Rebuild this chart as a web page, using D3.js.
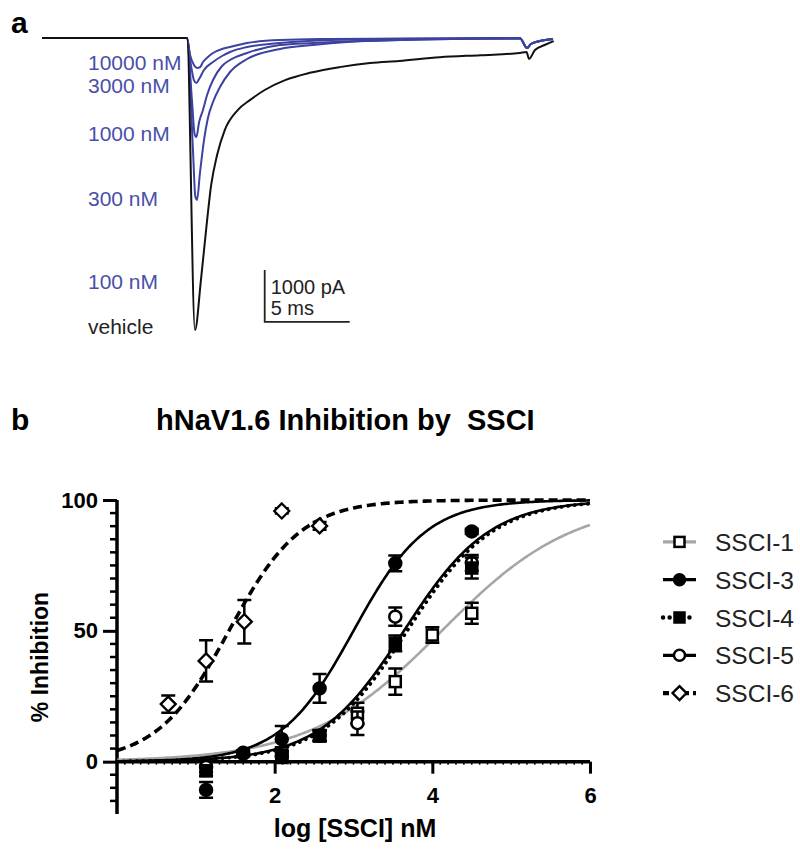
<!DOCTYPE html>
<html><head><meta charset="utf-8">
<script src="https://cdn.jsdelivr.net/npm/d3@7"></script>
<style>body{margin:0;background:#fff}svg{display:block}text{font-family:Arial,"Liberation Sans",Helvetica,sans-serif}</style>
</head><body><svg id="c" width="800" height="852"></svg>
<script>
// ---------- Panel a : current traces (time in ms, current in pA) ----------
const traceLabels = ["10000 nM","3000 nM","1000 nM","300 nM","100 nM","vehicle"];
const t10000 = [0, 8.53, 8.71, 8.94, 9.12, 9.3, 9.47, 9.76, 10.06, 10.59, 11.06, 12.06, 14.0, 16.94, 21.06, 28.12, 28.53, 28.76, 29.29, 30.06];
const i10000 = [0, 0, -327, -520, -577, -560, -462, -365, -288, -212, -173, -96, -38, -19, -10, 0, -192, -115, -58, -19];
const t3000 = [0, 8.53, 8.76, 8.95, 9.08, 9.24, 9.53, 10.06, 10.59, 11.06, 12.06, 14.0, 16.94, 21.06, 28.12, 28.53, 28.76, 29.29, 30.06];
const i3000 = [0, 0, -519, -820, -865, -790, -615, -462, -346, -269, -173, -96, -38, -19, -10, -192, -115, -58, -19];
const t1000 = [0, 8.53, 8.82, 8.98, 9.08, 9.24, 9.47, 9.71, 10.06, 10.59, 11.06, 12.06, 14.0, 15.94, 18.71, 22.24, 28.12, 28.53, 28.76, 29.29, 30.06];
const i1000 = [0, 0, -1192, -1850, -1904, -1620, -1385, -1096, -808, -538, -423, -288, -135, -96, -58, -29, -10, -192, -115, -58, -19];
const t300 = [0, 8.53, 8.88, 9.02, 9.12, 9.29, 9.53, 9.76, 10.06, 10.47, 11.06, 12.06, 14.0, 15.94, 17.94, 21.06, 24.59, 28.12, 28.53, 28.76, 29.29, 30.06];
const i300 = [0, 0, -2154, -3050, -3115, -2600, -1962, -1538, -1231, -942, -654, -404, -212, -135, -77, -38, -19, -10, -192, -115, -58, -19];
const tVehicle = [0, 8.53, 9.0, 9.35, 9.65, 9.95, 10.3, 10.75, 11.5, 12.25, 13.1, 14.3, 15.75, 17.5, 19.3, 21.0, 23.4, 25.8, 28.1, 28.5, 28.65, 29.0, 29.6, 30.1];
const iVehicle = [0, 0, -5615, -4650, -3700, -2830, -2250, -1770, -1390, -1190, -1000, -810, -670, -560, -480, -440, -370, -330, -290, -270, -400, -230, -130, -60];
const labelCurrent = [-480, -920, -1850, -3100, -4700, -5550]; // current level where each label sits

// ---------- Panel b : concentration-response ----------
const compounds = ["SSCI-1","SSCI-3","SSCI-4","SSCI-5","SSCI-6"];
const logIC50 = [4.12, 3.0, 3.68, 3.64, 1.42];
const hillSlope = [0.52, 0.94, 0.8, 0.8, 0.95];
const x1 = [2.09, 2.57, 3.05, 3.53, 4.0, 4.5];
const y1 = [2, 10, 18.5, 30.6, 48.4, 56.7];
const e1 = [2, 2, 4, 5, 3, 4];
const x3 = [1.13, 1.6, 2.09, 2.57, 3.53, 4.5];
const y3 = [-10.8, 3.4, 8.6, 28, 75.8, 88];
const e3 = [3, 1, 5, 5.5, 3, 1];
const x4 = [1.13, 2.09, 2.57, 3.53, 4.5];
const y4 = [-3.5, 2.5, 9.8, 45.2, 74];
const e4 = [2, 3, 2, 3, 4];
const x5 = [1.13, 1.6, 2.09, 2.57, 3.05, 3.53, 4.5];
const y5 = [-2, 3, 2, 10, 14.7, 55.4, 76];
const e5 = [2, 1, 2, 2, 4.5, 3.5, 3];
const x6 = [0.65, 1.13, 1.615, 2.09, 2.57];
const y6 = [22, 38.5, 53.5, 95.8, 90.1];
const e6 = [3.3, 7.9, 8.3, 1, 1.5];
const xTicks = [2, 4, 6];
const yTicks = [0, 50, 100];

const svg = d3.select("#c");
const blue = "#3d42a0";

// ===== Panel a =====
const tx = d3.scaleLinear().domain([0, 30]).range([42, 552]);
const iy = d3.scaleLinear().domain([0, -1000]).range([38, 90]);
const lineA = d3.line().x(d => tx(d[0])).y(d => iy(d[1])).curve(d3.curveMonotoneX);
const traces = [
  {t: t300, i: i300, c: blue},
  {t: t1000, i: i1000, c: blue},
  {t: t3000, i: i3000, c: blue},
  {t: t10000, i: i10000, c: blue},
  {t: tVehicle, i: iVehicle, c: "#111"}
];
traces.forEach(tr => {
  svg.append("path").datum(d3.zip(tr.t, tr.i)).attr("d", lineA)
    .attr("fill", "none").attr("stroke", tr.c).attr("stroke-width", 2).attr("stroke-linejoin", "round");
});
svg.append("text").attr("x", 11).attr("y", 33).attr("font-size", 30).attr("font-weight", "bold").text("a");
traceLabels.forEach((l, k) => {
  svg.append("text").attr("x", 88).attr("y", iy(labelCurrent[k]) + 7).attr("font-size", 21)
    .attr("fill", l === "vehicle" ? "#222" : "#4a4fa8").text(l);
});
// scale bar: 1000 pA, 5 ms
const sbT = 13.1, sbI = -4460;
svg.append("path").attr("d", `M${tx(sbT)},${iy(sbI)}V${iy(sbI - 1000)}H${tx(sbT + 5)}`)
  .attr("fill", "none").attr("stroke", "#222").attr("stroke-width", 1.8);
svg.append("text").attr("x", tx(sbT) + 6).attr("y", iy(sbI) + 24).attr("font-size", 20).attr("fill", "#222").text("1000 pA");
svg.append("text").attr("x", tx(sbT) + 6).attr("y", iy(sbI) + 45).attr("font-size", 20).attr("fill", "#222").text("5 ms");

// ===== Panel b =====
const x = d3.scaleLinear().domain([0, 6]).range([117, 590]);
const y = d3.scaleLinear().domain([-20, 100]).range([814, 500]);

svg.append("text").attr("x", 11).attr("y", 430).attr("font-size", 30).attr("font-weight", "bold").text("b");
svg.append("text").attr("x", 156).attr("y", 430).attr("font-size", 29).attr("font-weight", "bold")
  .style("white-space", "pre").text("hNaV1.6 Inhibition by  SSCI");

// axes
const yAxis = d3.axisLeft(y).tickValues(yTicks).tickSize(14).tickPadding(5).tickFormat(d3.format("d"));
const gy = svg.append("g").attr("transform", `translate(${x(0)},0)`).call(yAxis);
gy.append("g").selectAll("line").data(d3.range(-15, 100, 5).filter(v => v % 50 !== 0)).join("line")
  .attr("x1", -7).attr("x2", 0).attr("y1", d => y(d)).attr("y2", d => y(d)).attr("stroke", "#000").attr("stroke-width", 2.5);
const xAxis = d3.axisBottom(x).tickValues(xTicks).tickSize(12).tickPadding(14).tickFormat(d3.format("d"));
const gx = svg.append("g").attr("transform", `translate(0,${y(0)})`).call(xAxis);
gx.append("g").selectAll("line").data(d3.range(1, 60).map(v => v / 10)).join("line")
  .attr("x1", d => x(d)).attr("x2", d => x(d)).attr("y1", 0).attr("y2", 3).attr("stroke", "#000").attr("stroke-width", 1.5);
[gx, gy].forEach(g => {
  g.select(".domain").attr("stroke", "#000").attr("stroke-width", 3.5);
  g.selectAll(".tick line").attr("stroke", "#000").attr("stroke-width", 3);
  g.selectAll(".tick text").attr("font-size", 22).attr("font-weight", "bold").attr("fill", "#000")
    .attr("font-family", "Arial, 'Liberation Sans', sans-serif");
});
gy.select(".domain").attr("d", `M0,${y(-20)}V${y(100)}`);
gx.select(".domain").attr("d", `M${x(0)},0H${x(6)}`);

svg.append("text").attr("transform", `translate(48,657) rotate(-90)`).attr("text-anchor", "middle")
  .attr("font-size", 23).attr("font-weight", "bold").text("% Inhibition");
svg.append("text").attr("x", 355).attr("y", 837).attr("text-anchor", "middle")
  .attr("font-size", 25).attr("font-weight", "bold").text("log [SSCI] nM");

// fitted curves
const styles = [
  {stroke: "#a6a6a6", dash: null, w: 2.6, cap: "butt", marker: "square", fill: "#fff"},
  {stroke: "#000", dash: null, w: 2.6, cap: "butt", marker: "circle", fill: "#000"},
  {stroke: "#000", dash: "0.1 6.5", w: 3.8, cap: "round", marker: "square", fill: "#000"},
  {stroke: "#000", dash: null, w: 2.6, cap: "butt", marker: "circle", fill: "#fff"},
  {stroke: "#000", dash: "9 5", w: 3.6, cap: "butt", marker: "diamond", fill: "#fff"}
];
const xs = d3.range(0, 6.0001, 0.02);
const lineB = d3.line().x(d => x(d[0])).y(d => y(d[1]));
const curveOrder = [0, 3, 2, 1, 4];
curveOrder.forEach(k => {
  const pts = xs.map(v => [v, 100 / (1 + Math.pow(10, (logIC50[k] - v) * hillSlope[k]))]);
  svg.append("path").datum(pts).attr("d", lineB).attr("fill", "none")
    .attr("stroke", styles[k].stroke).attr("stroke-width", styles[k].w)
    .attr("stroke-dasharray", styles[k].dash).attr("stroke-linecap", styles[k].cap);
});

function drawMarker(g, type, cx, cy, fill, s) {
  if (type === "circle") {
    g.append("circle").attr("cx", cx).attr("cy", cy).attr("r", s / 2 - 0.5).attr("fill", fill)
      .attr("stroke", "#000").attr("stroke-width", 2.5);
  } else if (type === "square") {
    g.append("rect").attr("x", cx - s / 2 + 1).attr("y", cy - s / 2 + 1).attr("width", s - 2).attr("height", s - 2)
      .attr("fill", fill).attr("stroke", "#000").attr("stroke-width", 2.5);
  } else {
    const r = s / 2 + 1;
    g.append("path").attr("d", `M${cx},${cy - r}L${cx + r},${cy}L${cx},${cy + r}L${cx - r},${cy}Z`)
      .attr("fill", fill).attr("stroke", "#000").attr("stroke-width", 2.3);
  }
}

const series = [
  {xv: x1, yv: y1, ev: e1}, {xv: x3, yv: y3, ev: e3}, {xv: x4, yv: y4, ev: e4},
  {xv: x5, yv: y5, ev: e5}, {xv: x6, yv: y6, ev: e6}
];
const pointOrder = [0, 3, 2, 1, 4];
pointOrder.forEach(k => {
  const s = series[k], g = svg.append("g");
  s.xv.forEach((xv, j) => {
    const cx = x(xv), cy = y(s.yv[j]), e = s.ev[j];
    const top = y(s.yv[j] + e), bot = y(s.yv[j] - e);
    g.append("path").attr("d", `M${cx},${top}V${bot}M${cx - 7},${top}H${cx + 7}M${cx - 7},${bot}H${cx + 7}`)
      .attr("stroke", "#000").attr("stroke-width", 2.5).attr("fill", "none");
    drawMarker(g, styles[k].marker, cx, cy, styles[k].fill, 13);
  });
});

// legend
const legY = d3.scaleBand().domain(compounds).range([523, 712]);
compounds.forEach((c, k) => {
  const cy = legY(c) + legY.bandwidth() / 2;
  const g = svg.append("g");
  g.append("line").attr("x1", 663).attr("x2", 696).attr("y1", cy).attr("y2", cy)
    .attr("stroke", styles[k].stroke).attr("stroke-width", styles[k].w + 0.6)
    .attr("stroke-dasharray", styles[k].dash === "9 5" ? "6 4" : styles[k].dash).attr("stroke-linecap", styles[k].cap);
  drawMarker(g, styles[k].marker, 679.5, cy, styles[k].fill, 12);
  g.append("text").attr("x", 715).attr("y", cy + 9).attr("font-size", 24.5).attr("fill", "#222").text(c);
});
</script></body></html>
